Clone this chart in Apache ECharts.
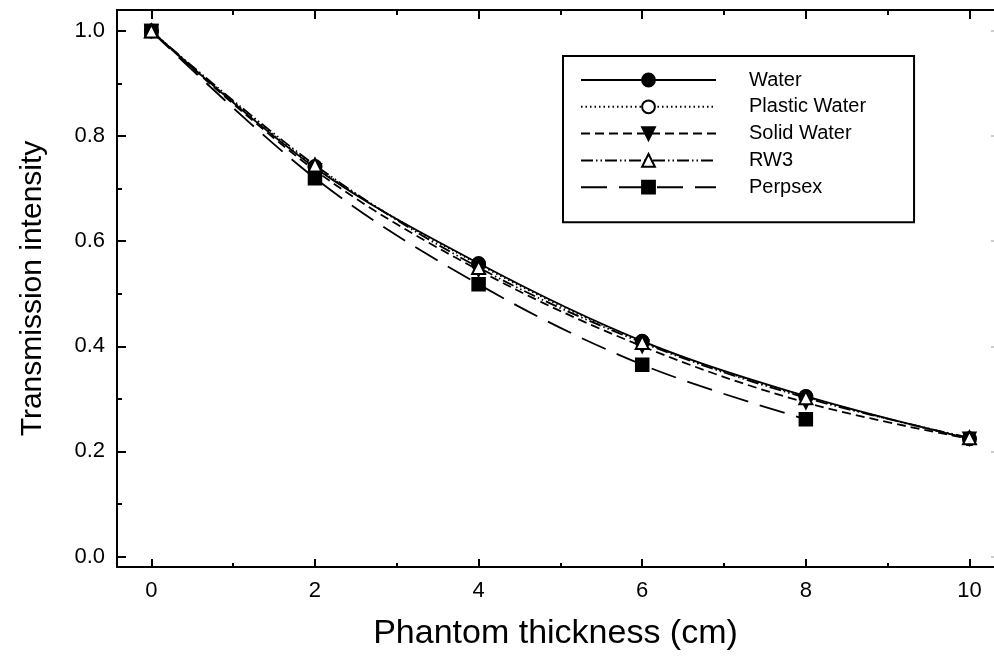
<!DOCTYPE html>
<html>
<head>
<meta charset="utf-8">
<script src="https://cdn.jsdelivr.net/npm/echarts@6.0.0/dist/echarts.min.js"></script>
<style>
  html, body { margin: 0; padding: 0; background: #fff; }
  #chart { width: 994px; height: 656px; }
</style>
</head>
<body>
<div id="chart"></div>
<script>
// phantom thickness (cm)
const thickness = [0, 2, 4, 6, 8, 10];
// transmission intensity per material
const water = [1.0, 0.740, 0.558, 0.410, 0.305, 0.224];
const plasticWater = [1.0, 0.742, 0.556, 0.409, 0.304, 0.224];
const solidWater = [1.0, 0.735, 0.545, 0.400, 0.293, 0.224];
const rw3 = [1.0, 0.745, 0.550, 0.407, 0.302, 0.226];
const perpsex = [1.0, 0.720, 0.518, 0.365, 0.261];

// tick labels
const xMajor = [0, 2, 4, 6, 8, 10];
const xMinor = [1, 3, 5, 7, 9];
const yMajor = [0, 0.2, 0.4, 0.6, 0.8, 1.0];
const yMinor = [0.1, 0.3, 0.5, 0.7, 0.9];

const X_MIN = -0.42, X_MAX = 10.3;
const Y_MIN = -0.02, Y_MAX = 1.04;
const FONT = '"Liberation Sans", Arial, sans-serif';

function pairs(values) {
  return values.map((v, i) => [thickness[i], v]);
}

function tickAxis(position, vals, len, extra) {
  return Object.assign({
    type: 'value',
    position: position,
    min: position === 'left' || position === 'right' ? Y_MIN : X_MIN,
    max: position === 'left' || position === 'right' ? Y_MAX : X_MAX,
    axisLine: { show: false, onZero: false },
    axisTick: {
      inside: true,
      length: len,
      customValues: vals,
      lineStyle: { color: '#000', width: 2 }
    },
    axisLabel: { show: false },
    splitLine: { show: false }
  }, extra || {});
}

const chart = echarts.init(document.getElementById('chart'));

const lineBase = { color: '#000', width: 1.8 };

function makeSeries(name, values, symbol, lineType, extra) {
  return Object.assign({
    name: name,
    type: 'line',
    data: pairs(values),
    smooth: 0.35,
    symbol: symbol,
    symbolSize: 13,
    showAllSymbol: true,
    itemStyle: { color: '#000', borderColor: '#000', borderWidth: 1.5 },
    lineStyle: Object.assign({ type: lineType }, lineBase),
    z: 2
  }, extra || {});
}

const option = {
  animation: false,
  backgroundColor: '#fff',
  grid: { left: 117, right: 0, top: 10, bottom: 87 },
  legend: {
    orient: 'vertical',
    left: 563,
    top: 56,
    padding: [14, 48, 25, 17],
    borderColor: '#000',
    borderWidth: 2,
    itemGap: 6.8,
    itemWidth: 135,
    itemHeight: 16,
    textStyle: {
      fontFamily: FONT,
      fontSize: 20,
      color: '#000',
      lineHeight: 20,
      padding: [0, 0, 0, 28]
    },
    data: ['Water', 'Plastic Water', 'Solid Water', 'RW3', 'Perpsex']
  },
  xAxis: [
    {
      type: 'value',
      position: 'bottom',
      min: X_MIN,
      max: X_MAX,
      name: 'Phantom thickness (cm)',
      nameLocation: 'middle',
      nameGap: 50,
      nameTextStyle: { fontFamily: FONT, fontSize: 34, color: '#000' },
      axisLine: { onZero: false, lineStyle: { color: '#000', width: 2 } },
      axisTick: {
        inside: true,
        length: 8,
        customValues: xMajor,
        lineStyle: { color: '#000', width: 2 }
      },
      axisLabel: {
        customValues: xMajor,
        margin: 13,
        fontFamily: FONT,
        fontSize: 22,
        color: '#000'
      },
      splitLine: { show: false }
    },
    tickAxis('bottom', xMinor, 4),
    tickAxis('top', xMajor, 9, {
      axisLine: { show: true, onZero: false, lineStyle: { color: '#000', width: 2 } }
    }),
    tickAxis('top', xMinor, 5)
  ],
  yAxis: [
    {
      type: 'value',
      position: 'left',
      min: Y_MIN,
      max: Y_MAX,
      name: 'Transmission intensity',
      nameLocation: 'middle',
      nameGap: 69,
      nameTextStyle: { fontFamily: FONT, fontSize: 30, color: '#000' },
      axisLine: { onZero: false, lineStyle: { color: '#000', width: 2 } },
      axisTick: {
        inside: true,
        length: 9,
        customValues: yMajor,
        lineStyle: { color: '#000', width: 2 }
      },
      axisLabel: {
        customValues: yMajor,
        margin: 12,
        fontFamily: FONT,
        fontSize: 22,
        color: '#000',
        formatter: v => v.toFixed(1)
      },
      splitLine: { show: false }
    },
    tickAxis('left', yMinor, 5),
    tickAxis('right', yMajor, 3, {
      axisTick: {
        inside: true,
        length: 3,
        customValues: yMajor,
        lineStyle: { color: '#ccc', width: 2 }
      }
    })
  ],
  series: [
    makeSeries('Perpsex', perpsex, 'rect', [26, 12]),
    makeSeries('Solid Water', solidWater, 'triangle', [9, 5], { symbolRotate: 180 }),
    makeSeries('Plastic Water', plasticWater, 'emptyCircle', [1.5, 3]),
    makeSeries('Water', water, 'circle', 'solid'),
    makeSeries('RW3', rw3, 'emptyTriangle', [12, 3, 1.5, 3, 1.5, 3])
  ]
};

chart.setOption(option);
</script>
</body>
</html>
